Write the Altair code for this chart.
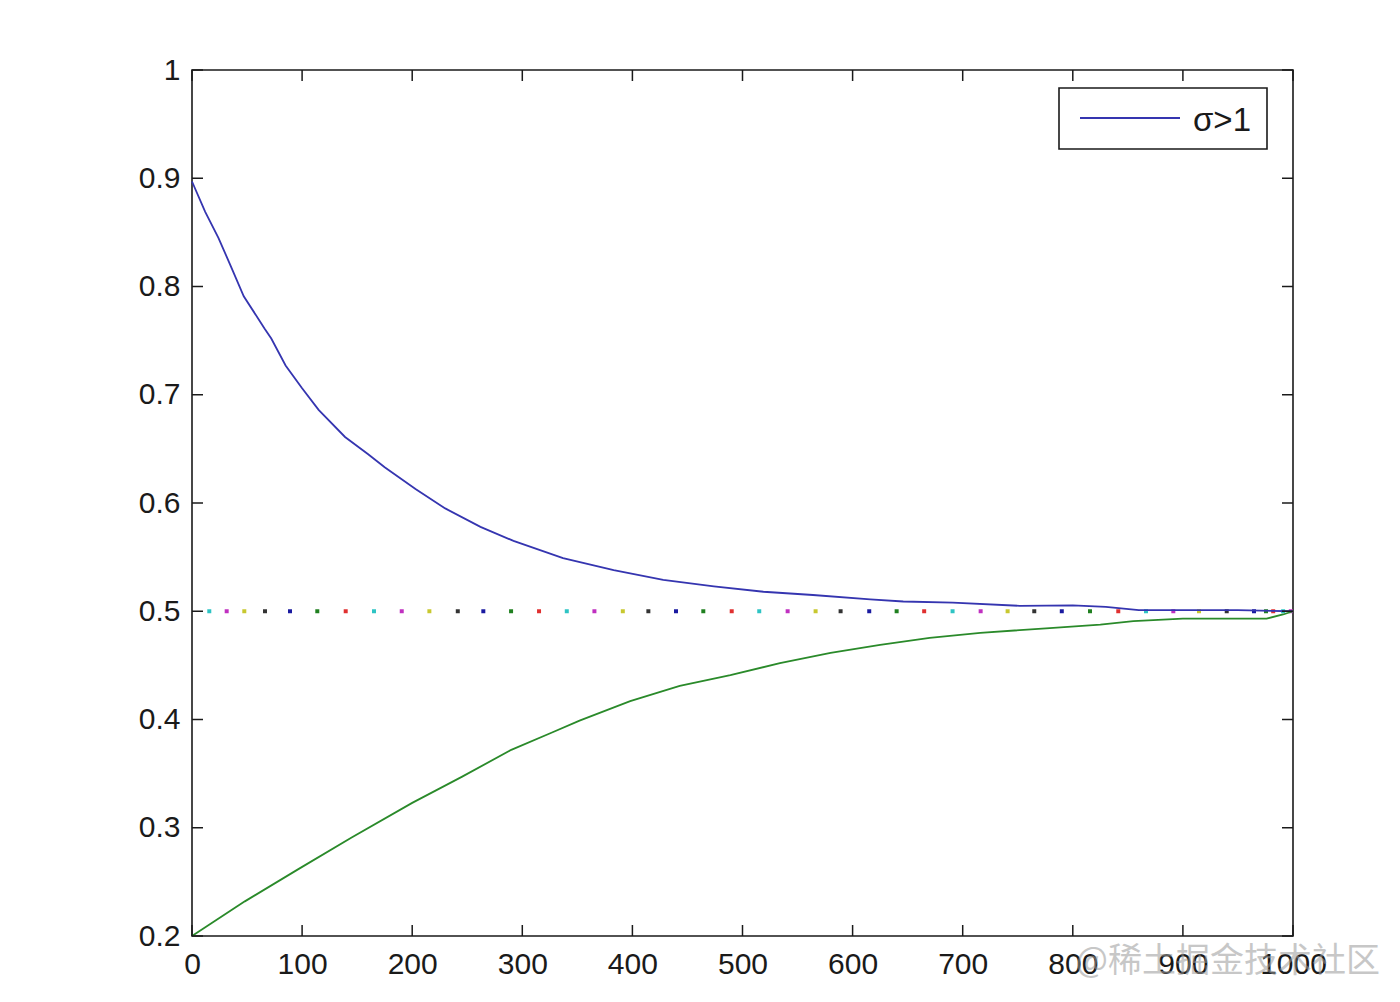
import altair as alt
import pandas as pd

# ---- data ----
blue_x = [0, 12, 24, 36, 47, 66, 72, 85, 100, 115, 139, 160, 175, 203, 230, 262, 292, 337,
          383, 428, 474, 519, 564, 616, 646, 691, 752, 800, 830, 860, 900, 950, 1000]
blue_y = [0.897, 0.869, 0.845, 0.817, 0.791, 0.761, 0.752, 0.727, 0.706, 0.686, 0.661, 0.645,
          0.633, 0.613, 0.595, 0.578, 0.565, 0.549, 0.538, 0.529, 0.523, 0.518, 0.515, 0.511,
          0.509, 0.508, 0.505, 0.5055, 0.504, 0.501, 0.501, 0.501, 0.500]

green_x = [0, 48, 97, 145, 200, 245, 290, 327, 352, 398, 443, 489, 534, 580, 625, 670, 716,
           779, 825, 855, 900, 976, 991, 1000]
green_y = [0.200, 0.232, 0.262, 0.291, 0.323, 0.347, 0.372, 0.388, 0.399, 0.417, 0.431, 0.441,
           0.452, 0.4615, 0.469, 0.4754, 0.480, 0.4845, 0.4877, 0.4908, 0.4932, 0.4932, 0.497, 0.500]

dot_x = [15.7, 31.5, 47.5, 66.3, 89, 113.8, 139.6, 165.3, 190.5, 215.6, 241.4, 264.6, 289.8,
         315.2, 340.4, 365.5, 391.3, 414.5, 439.6, 464.4, 490.2, 515.2, 541, 566.4, 589.1,
         615.1, 640, 665, 690.8, 716.3, 740.8, 765, 790, 815.6, 841.3, 866.5, 891.3, 914.6,
         939.8, 964.6, 975.5, 982, 991, 998]
dot_series = ["c", "m", "y", "k", "b", "g", "r"] * 7
dot_series = dot_series[:len(dot_x)]
dot_y = [0.5] * len(dot_x)

x_ticks = [0, 100, 200, 300, 400, 500, 600, 700, 800, 900, 1000]
y_ticks = [0.2, 0.3, 0.4, 0.5, 0.6, 0.7, 0.8, 0.9, 1.0]
legend_label = "σ>1"
watermark = "@稀土掘金技术社区"

# ---- chart ----
W, H = 1101, 866
FONT = "Liberation Sans"
INK = "#1a1a1a"

xs = alt.Scale(domain=[0, 1000], nice=False, zero=False)
ys = alt.Scale(domain=[0.2, 1.0], nice=False, zero=False)
xaxis = alt.Axis(values=x_ticks, format="d", title=None, ticks=False, domain=False, grid=False,
                 labelFlush=False, labelOverlap=False, labelPadding=13)
yaxis = alt.Axis(values=y_ticks, format=".1~f", title=None, ticks=False, domain=False, grid=False,
                 labelFlush=False, labelOverlap=False, labelPadding=12)
X = alt.X("x:Q", scale=xs, axis=xaxis)
Y = alt.Y("y:Q", scale=ys, axis=yaxis)

blue_df = pd.DataFrame({"x": blue_x, "y": blue_y})
green_df = pd.DataFrame({"x": green_x, "y": green_y})
dots_df = pd.DataFrame({"x": dot_x, "y": dot_y, "s": dot_series})
xt_df = pd.DataFrame({"x": x_ticks})
yt_df = pd.DataFrame({"y": y_ticks})
one = pd.DataFrame({"a": [0]})

blue = alt.Chart(blue_df).mark_line(color="#3535b0", strokeWidth=1.8).encode(x=X, y=Y)
green = alt.Chart(green_df).mark_line(color="#2a8a2a", strokeWidth=1.8).encode(x=X, y=Y)

dots = alt.Chart(dots_df).mark_square(size=16, opacity=1).encode(
    x=X, y=Y,
    color=alt.Color("s:N", legend=None,
                    scale=alt.Scale(domain=["b", "g", "r", "c", "m", "y", "k"],
                                    range=["#1a1aa0", "#208020", "#e03030", "#2ec4c4",
                                           "#c030c0", "#c8c830", "#333333"])),
)

tick_len = 11
xt_bot = alt.Chart(xt_df).mark_rule(color=INK, strokeWidth=1.5).encode(
    x=X, y=alt.value(H), y2=alt.value(H - tick_len))
xt_top = alt.Chart(xt_df).mark_rule(color=INK, strokeWidth=1.5).encode(
    x=X, y=alt.value(0), y2=alt.value(tick_len))
yt_left = alt.Chart(yt_df).mark_rule(color=INK, strokeWidth=1.5).encode(
    y=Y, x=alt.value(0), x2=alt.value(tick_len))
yt_right = alt.Chart(yt_df).mark_rule(color=INK, strokeWidth=1.5).encode(
    y=Y, x=alt.value(W - tick_len), x2=alt.value(W))

leg_box = alt.Chart(one).mark_rect(fill="white", stroke=INK, strokeWidth=1.6).encode(
    x=alt.value(867), x2=alt.value(1075), y=alt.value(18), y2=alt.value(79))
leg_line = alt.Chart(one).mark_rule(color="#3535b0", strokeWidth=1.8).encode(
    x=alt.value(888), x2=alt.value(988), y=alt.value(48))
leg_text = alt.Chart(one).mark_text(align="left", baseline="middle", font=FONT, fontSize=33,
                                    color=INK).encode(
    x=alt.value(1001), y=alt.value(51), text=alt.value(legend_label))

wm = alt.Chart(one).mark_text(align="right", baseline="middle", font="Noto Sans CJK SC",
                              fontSize=34, color="#9a9a9a", opacity=0.55).encode(
    x=alt.value(1188), y=alt.value(892), text=alt.value(watermark))

chart = alt.layer(
    dots, blue, green, xt_bot, xt_top, yt_left, yt_right, leg_box, leg_line, leg_text, wm
).properties(
    width=W, height=H,
    autosize=alt.AutoSizeParams(type="none"),
    padding={"left": 192, "top": 70, "right": 107, "bottom": 66},
    background="white",
).configure_view(
    stroke=INK, strokeWidth=1.6
).configure_axis(
    labelFont=FONT, labelFontSize=30, labelColor=INK
)

chart.save("out.html", embed_options={"renderer": "svg", "actions": False})
